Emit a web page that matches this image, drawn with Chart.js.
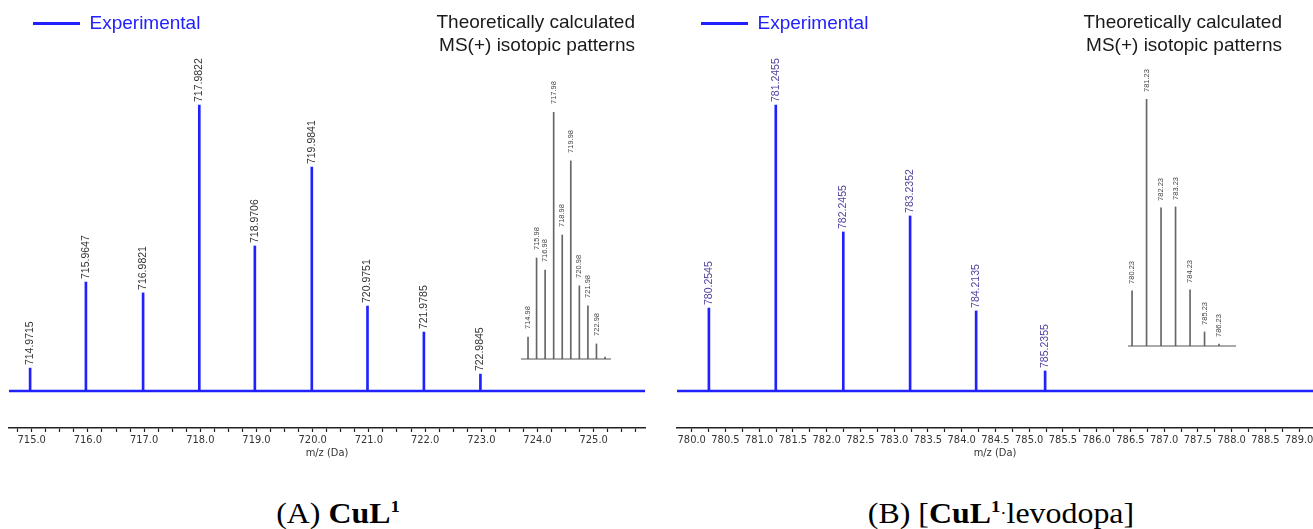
<!DOCTYPE html>
<html>
<head>
<meta charset="utf-8">
<script src="https://cdn.jsdelivr.net/npm/chart.js@4.4.1/dist/chart.umd.min.js"></script>
<style>
  html, body { margin: 0; padding: 0; background: #fff; overflow: hidden; }
  #page { position: relative; width: 1313px; height: 529px; overflow: hidden; }
  canvas { position: absolute; }
  .theo { position: absolute; font: 19px 'Liberation Sans', Arial, sans-serif; color: #1a1a1a; text-align: right; line-height: 23px; white-space: nowrap; }
  .cap { position: absolute; width: 420px; text-align: center; font: 29px 'Liberation Serif', 'Times New Roman', serif; color: #000; line-height: 30px; transform: scaleX(1.1); white-space: nowrap; }
  .cap sup { font-size: 17px; vertical-align: 11px; line-height: 0; }
  .cap .dot { font-size: 17px; vertical-align: 4px; }
</style>
</head>
<body>
<div id="page">
  <canvas id="mainA" width="656" height="470" style="left:0px;top:-10px"></canvas>
  <canvas id="insetA" width="130" height="305" style="left:500px;top:60px"></canvas>
  <canvas id="mainB" width="660" height="470" style="left:660px;top:-10px"></canvas>
  <canvas id="insetB" width="140" height="305" style="left:1110px;top:50px"></canvas>
  <div class="theo" style="right:678px;top:10px">Theoretically calculated<br>MS(+) isotopic patterns</div>
  <div class="theo" style="right:31px;top:10px">Theoretically calculated<br>MS(+) isotopic patterns</div>
  <div class="cap" style="left:128px;top:498px">(A) <b>CuL<sup>1</sup></b></div>
  <div class="cap" style="left:791px;top:498px">(B) [<b>CuL<sup>1</sup></b><span class="dot">·</span>levodopa]</div>
</div>
<script>
// (A) CuL1 - experimental peaks
const mzA = [714.9715, 715.9647, 716.9821, 717.9822, 718.9706, 719.9841, 720.9751, 721.9785, 722.9845];
const intA = [8.0, 38.1, 34.3, 100, 50.7, 78.3, 29.7, 20.6, 5.9];
// (A) theoretical isotopic pattern
const mzThA = [714.98, 715.98, 716.98, 717.98, 718.98, 719.98, 720.98, 721.98, 722.98, 723.98];
const intThA = [8.9, 40.9, 36.0, 100, 50.2, 80.2, 29.6, 21.5, 6.1, 0.8];
const labelsThA = ['714.98', '715.98', '716.98', '717.98', '718.98', '719.98', '720.98', '721.98', '722.98', ''];
const ticksA = ['715.0', '716.0', '717.0', '718.0', '719.0', '720.0', '721.0', '722.0', '723.0', '724.0', '725.0'];

// (B) [CuL1.levodopa] - experimental peaks
const mzB = [780.2545, 781.2455, 782.2455, 783.2352, 784.2135, 785.2355];
const intB = [29.0, 100, 55.6, 61.2, 28.0, 7.0];
// (B) theoretical isotopic pattern
const mzThB = [780.23, 781.23, 782.23, 783.23, 784.23, 785.23, 786.23];
const intThB = [22.3, 100, 55.9, 56.3, 22.7, 5.7, 0.8];
const labelsThB = ['780.23', '781.23', '782.23', '783.23', '784.23', '785.23', '786.23'];
const ticksB = ['780.0', '780.5', '781.0', '781.5', '782.0', '782.5', '783.0', '783.5', '784.0', '784.5',
                '785.0', '785.5', '786.0', '786.5', '787.0', '787.5', '788.0', '788.5', '789.0'];

const BLUE = '#2121ff';
const AXIS_FONT = { family: "'DejaVu Sans Condensed', 'DejaVu Sans', sans-serif", size: 11 };

// rotated m/z labels on top of each stick
const peakLabels = {
  id: 'peakLabels',
  afterDatasetsDraw(chart, args, opts) {
    const ctx = chart.ctx;
    const bars = chart.getDatasetMeta(0).data;
    ctx.save();
    ctx.font = opts.font;
    ctx.fillStyle = opts.color;
    ctx.textAlign = 'left';
    ctx.textBaseline = 'middle';
    bars.forEach((bar, i) => {
      const text = opts.labels[i];
      if (!text) return;
      ctx.save();
      ctx.translate(bar.x, bar.y - opts.gap);
      ctx.rotate(-Math.PI / 2);
      ctx.fillText(text, 0, 0);
      ctx.restore();
    });
    ctx.restore();
  }
};

// spectrum baseline at intensity 0
const zeroLine = {
  id: 'zeroLine',
  afterDatasetsDraw(chart, args, opts) {
    const { ctx, chartArea, scales } = chart;
    const y = scales.y.getPixelForValue(0);
    ctx.save();
    ctx.strokeStyle = opts.color;
    ctx.lineWidth = opts.width;
    ctx.beginPath();
    ctx.moveTo(chartArea.left, y);
    ctx.lineTo(chartArea.right, y);
    ctx.stroke();
    ctx.restore();
  }
};

function mainChart(id, mz, inten, tickLabels, xMin, xMax, pad, labelColor) {
  const first = parseFloat(tickLabels[0]);
  const tickValues = [];
  for (let v = first - 0.25; v <= xMax; v += 0.25) {
    if (v >= xMin) tickValues.push(Math.round(v * 100) / 100);
  }
  return new Chart(document.getElementById(id), {
    type: 'bar',
    data: {
      datasets: [{
        label: 'Experimental',
        data: mz.map((x, i) => ({ x: x, y: inten[i] })),
        backgroundColor: BLUE,
        borderWidth: 0,
        barThickness: 2
      }]
    },
    options: {
      responsive: false,
      animation: false,
      layout: { padding: pad },
      scales: {
        x: {
          type: 'linear',
          min: xMin,
          max: xMax,
          offset: false,
          afterBuildTicks: (scale) => { scale.ticks = tickValues.map(v => ({ value: v })); },
          ticks: {
            autoSkip: false, maxRotation: 0, minRotation: 0, padding: 2,
            color: '#333', font: AXIS_FONT,
            callback: (v) => { const s = Number(v).toFixed(1); return tickLabels.includes(s) ? s : ''; }
          },
          grid: { display: true, drawOnChartArea: false, drawTicks: true, tickLength: 4, color: '#222', tickWidth: 1.2, offset: false },
          border: { display: true, color: '#222', width: 1.5 },
          title: { display: true, text: 'm/z (Da)', color: '#333', font: AXIS_FONT, padding: { top: -3, bottom: 0 } }
        },
        y: { display: false, min: -12.94, max: 140.21 }
      },
      plugins: {
        legend: {
          position: 'chartArea',
          align: 'start',
          labels: {
            usePointStyle: true, pointStyle: 'line', pointStyleWidth: 47, padding: 24,
            color: BLUE, font: { family: "'Liberation Sans', Arial, sans-serif", size: 19 },
            generateLabels: (chart) => chart.data.datasets.map((ds, i) => ({
              text: ds.label, strokeStyle: BLUE, fillStyle: BLUE, fontColor: BLUE,
              lineWidth: 3, pointStyle: 'line', datasetIndex: i, hidden: false
            }))
          }
        },
        tooltip: { enabled: false },
        peakLabels: { labels: mz.map(v => v.toFixed(4)), font: "10.5px 'Liberation Sans', Arial, sans-serif", color: labelColor, gap: 3 },
        zeroLine: { color: BLUE, width: 2.5 }
      }
    },
    plugins: [peakLabels, zeroLine]
  });
}

function insetChart(id, mz, inten, labels, xMin, xMax, pad, gap) {
  return new Chart(document.getElementById(id), {
    type: 'bar',
    data: {
      datasets: [{
        label: 'Theoretical',
        data: mz.map((x, i) => ({ x: x, y: inten[i] })),
        backgroundColor: '#666',
        borderWidth: 0,
        barThickness: 1
      }]
    },
    options: {
      responsive: false,
      animation: false,
      layout: { padding: pad },
      scales: {
        x: { type: 'linear', display: false, min: xMin, max: xMax, offset: false },
        y: { display: false, min: 0, max: 100 }
      },
      plugins: {
        legend: { display: false },
        tooltip: { enabled: false },
        peakLabels: { labels: labels, font: "7.5px 'Liberation Sans', Arial, sans-serif", color: '#444', gap: gap },
        zeroLine: { color: '#555', width: 1 }
      }
    },
    plugins: [peakLabels, zeroLine]
  });
}

mainChart('mainA', mzA, intA, ticksA, 714.596, 725.913, { left: 9, right: 11, top: 0, bottom: 0.6 }, '#333');
mainChart('mainB', mzB, intB, ticksB, 779.782, 789.204, { left: 17, right: 7, top: 0, bottom: 0.6 }, '#4f3f9f');
insetChart('insetA', mzThA, intThA, labelsThA, 714.16, 724.68, { left: 21, right: 19, top: 52, bottom: 6 }, 8);
insetChart('insetB', mzThB, intThB, labelsThB, 779.95, 787.40, { left: 18, right: 14, top: 49, bottom: 9 }, 7);
</script>
</body>
</html>
